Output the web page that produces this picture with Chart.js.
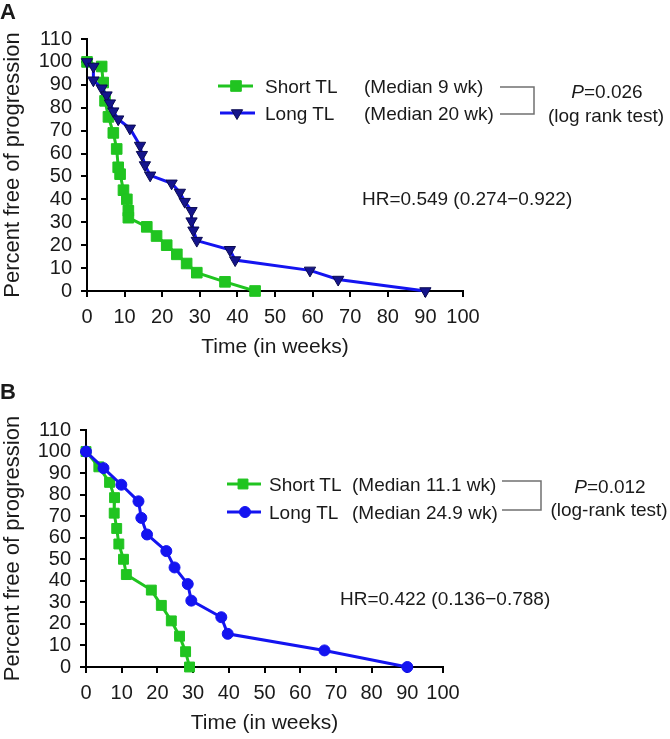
<!DOCTYPE html>
<html>
<head>
<meta charset="utf-8">
<script src="https://cdn.jsdelivr.net/npm/chart.js@4.4.1/dist/chart.umd.min.js"></script>
<style>
  body { margin: 0; background: #fff; }
  #page { position: relative; width: 670px; height: 739px; font-family: "Liberation Sans", Arial, sans-serif; color: #1a1a1a; overflow: hidden; }
  .box { position: absolute; left: 0; }
  .lbl { position: absolute; white-space: nowrap; line-height: 1; font-size: 19px; }
  .mid { transform: translateX(-50%); }
  .panel { position: absolute; left: 0; font-weight: bold; font-size: 22px; line-height: 1; }
</style>
</head>
<body>
<div id="page">
  <div class="box" style="top:0;width:670px;height:365px"><canvas id="chart-a" width="670" height="365"></canvas></div>
  <div class="box" style="top:365px;width:670px;height:374px"><canvas id="chart-b" width="670" height="374"></canvas></div>

  <div class="panel" style="top:1px">A</div>
  <div class="lbl" style="left:265px;top:77px">Short TL</div>
  <div class="lbl" style="left:265px;top:104px">Long TL</div>
  <div class="lbl" style="left:364px;top:77px">(Median 9 wk)</div>
  <div class="lbl" style="left:364px;top:104px">(Median 20 wk)</div>
  <div class="lbl mid" style="left:607px;top:82px"><i>P</i>=0.026</div>
  <div class="lbl mid" style="left:606px;top:106px">(log rank test)</div>
  <div class="lbl" style="left:362px;top:189px">HR=0.549 (0.274−0.922)</div>

  <div class="panel" style="top:381px">B</div>
  <div class="lbl" style="left:269px;top:475px">Short TL</div>
  <div class="lbl" style="left:269px;top:503px">Long TL</div>
  <div class="lbl" style="left:352px;top:475px">(Median 11.1 wk)</div>
  <div class="lbl" style="left:352px;top:503px">(Median 24.9 wk)</div>
  <div class="lbl mid" style="left:610px;top:477px"><i>P</i>=0.012</div>
  <div class="lbl mid" style="left:609px;top:500px">(log-rank test)</div>
  <div class="lbl" style="left:340px;top:589px">HR=0.422 (0.136−0.788)</div>
</div>
<script>
// panel A: weeks and percent free of progression
const weeksShortA = [0, 3.9, 4.3, 4.8, 5.7, 7.0, 7.9, 8.3, 8.8, 9.7, 10.6, 11.0, 11.0, 15.9, 18.5, 21.2, 23.9, 26.5, 29.2, 36.7, 44.7]
const pfsShortA   = [100, 98, 91, 83, 76, 69, 62, 54, 51, 44, 40, 35, 32, 28, 24, 20, 16, 12, 8, 4, 0]
const weeksLongA  = [0, 1.7, 1.7, 3.9, 5.2, 6.1, 7.0, 8.3, 11.4, 14.1, 14.6, 15.4, 16.8, 22.5, 24.7, 26.0, 27.8, 27.8, 28.3, 29.2, 38.0, 39.4, 59.3, 66.8, 90.0]
const pfsLongA    = [100, 98, 92, 88.5, 85.5, 82, 78.5, 75, 71, 63.5, 59.5, 55, 50.5, 47, 43, 39, 35, 30.5, 26.5, 22, 18, 13.5, 9, 5, 0]

// panel B
const weeksShortB = [0, 3.6, 6.6, 8.0, 7.9, 8.6, 9.2, 10.5, 11.3, 18.3, 21.1, 23.9, 26.2, 27.9, 29.0]
const pfsShortB   = [100, 92.9, 85.7, 78.6, 71.4, 64.3, 57.1, 50, 42.9, 35.7, 28.6, 21.4, 14.3, 7.1, 0]
const weeksLongB  = [0, 4.9, 9.9, 14.7, 15.5, 17.1, 22.5, 24.8, 28.5, 29.5, 37.9, 39.7, 66.8, 90.0]
const pfsLongB    = [100, 92.3, 84.6, 76.9, 69.2, 61.5, 53.8, 46.2, 38.5, 30.8, 23.1, 15.4, 7.7, 0]

const timeTicks = [0, 10, 20, 30, 40, 50, 60, 70, 80, 90, 100]
const pfsTicks  = [0, 10, 20, 30, 40, 50, 60, 70, 80, 90, 100, 110]

const GREEN = '#20c420'
const BLUE = '#1414f0'
const FONT = '"Liberation Sans", Arial, sans-serif'

const toPoints = (xs, ys) => xs.map((x, i) => ({ x: x, y: ys[i] }))

// legend keys and the bracket next to the medians
const keyPlugin = {
    id: 'keyBox',
    afterDatasetsDraw(chart, args, opts) {
        const ctx = chart.ctx
        ctx.save()
        opts.items.forEach(item => {
            const ds = chart.data.datasets[item.ds]
            ctx.strokeStyle = ds.borderColor
            ctx.lineWidth = ds.borderWidth
            ctx.beginPath()
            ctx.moveTo(item.x1, item.y)
            ctx.lineTo(item.x2, item.y)
            ctx.stroke()
            ctx.fillStyle = ds.pointBackgroundColor
            ctx.strokeStyle = ds.pointBorderColor
            ctx.lineWidth = ds.pointBorderWidth
            Chart.helpers.drawPoint(ctx, {
                pointStyle: ds.pointStyle,
                rotation: ds.pointRotation || 0,
                radius: ds.pointRadius,
                borderWidth: ds.pointBorderWidth
            }, item.mx, item.y)
        })
        const b = opts.bracket
        ctx.strokeStyle = '#707070'
        ctx.lineWidth = 1.5
        ctx.beginPath()
        ctx.moveTo(b.x1, b.y1)
        ctx.lineTo(b.x2, b.y1)
        ctx.lineTo(b.x2, b.y2)
        ctx.lineTo(b.x1, b.y2)
        ctx.stroke()
        ctx.restore()
    }
}

const axisGrid = {
    display: true,
    drawOnChartArea: false,
    drawTicks: true,
    tickLength: 6,
    color: '#000',
    lineWidth: 2
}

const makeChart = (canvasId, s) => {
    const shortSet = {
        data: toPoints(s.shortX, s.shortY),
        borderColor: GREEN,
        borderWidth: 3,
        pointStyle: 'rect',
        pointRadius: s.rectRadius,
        pointBackgroundColor: GREEN,
        pointBorderColor: GREEN,
        pointBorderWidth: 1,
        tension: 0,
        clip: false,
        order: 1
    }
    const longSet = {
        data: toPoints(s.longX, s.longY),
        borderColor: BLUE,
        borderWidth: 3,
        pointStyle: s.longStyle,
        pointRotation: s.longRotation,
        pointRadius: s.longRadius,
        pointBackgroundColor: s.longFill,
        pointBorderColor: s.longEdge,
        pointBorderWidth: 1,
        tension: 0,
        clip: false,
        order: 0
    }

    new Chart(document.getElementById(canvasId), {
        type: 'line',
        data: { datasets: [shortSet, longSet] },
        plugins: [keyPlugin],
        options: {
            responsive: false,
            animation: false,
            events: [],
            layout: { padding: { left: 0, top: s.top, right: 670 - s.right, bottom: 0 } },
            plugins: {
                legend: { display: false },
                tooltip: { enabled: false },
                keyBox: s.key
            },
            scales: {
                x: {
                    type: 'linear',
                    min: 0,
                    max: 100,
                    afterBuildTicks: (scale) => { scale.ticks = timeTicks.map(v => ({ value: v })) },
                    afterFit: (scale) => { scale.height = s.xAxisHeight },
                    grid: axisGrid,
                    border: { display: true, color: '#000', width: 2 },
                    ticks: { color: '#1a1a1a', font: { family: FONT, size: 20 }, padding: 8, maxRotation: 0, autoSkip: false },
                    title: {
                        display: true,
                        text: 'Time (in weeks)',
                        color: '#1a1a1a',
                        font: { family: FONT, size: 21 },
                        padding: { top: 0, bottom: s.xTitlePad }
                    }
                },
                y: {
                    type: 'linear',
                    min: 0,
                    max: 110,
                    afterBuildTicks: (scale) => { scale.ticks = pfsTicks.map(v => ({ value: v })) },
                    afterFit: (scale) => { scale.width = s.left },
                    grid: axisGrid,
                    border: { display: true, color: '#000', width: 2 },
                    ticks: { color: '#1a1a1a', font: { family: FONT, size: 20 }, padding: 9, autoSkip: false },
                    title: {
                        display: true,
                        text: 'Percent free of progression',
                        color: '#1a1a1a',
                        font: { family: FONT, size: 22 },
                        padding: { top: 0, bottom: 0 }
                    }
                }
            }
        }
    })
}

makeChart('chart-a', {
    shortX: weeksShortA, shortY: pfsShortA,
    longX: weeksLongA, longY: pfsLongA,
    rectRadius: 7.5,
    longStyle: 'triangle', longRotation: 180, longRadius: 6.5,
    longFill: '#14148c', longEdge: '#0a0a50',
    left: 87, right: 463, top: 39,
    xAxisHeight: 365 - 291, xTitlePad: 5,
    key: {
        items: [
            { ds: 0, x1: 218, x2: 253, y: 86, mx: 236 },
            { ds: 1, x1: 220, x2: 255, y: 113, mx: 237 }
        ],
        bracket: { x1: 500, x2: 534, y1: 87, y2: 114 }
    }
})

makeChart('chart-b', {
    shortX: weeksShortB, shortY: pfsShortB,
    longX: weeksLongB, longY: pfsLongB,
    rectRadius: 7,
    longStyle: 'circle', longRotation: 0, longRadius: 5.5,
    longFill: BLUE, longEdge: BLUE,
    left: 86, right: 443, top: 65,
    xAxisHeight: 374 - 302, xTitlePad: 3,
    key: {
        items: [
            { ds: 0, x1: 227, x2: 261, y: 119, mx: 243 },
            { ds: 1, x1: 227, x2: 261, y: 147, mx: 245 }
        ],
        bracket: { x1: 502, x2: 541, y1: 116, y2: 145 }
    }
})
</script>
</body>
</html>
